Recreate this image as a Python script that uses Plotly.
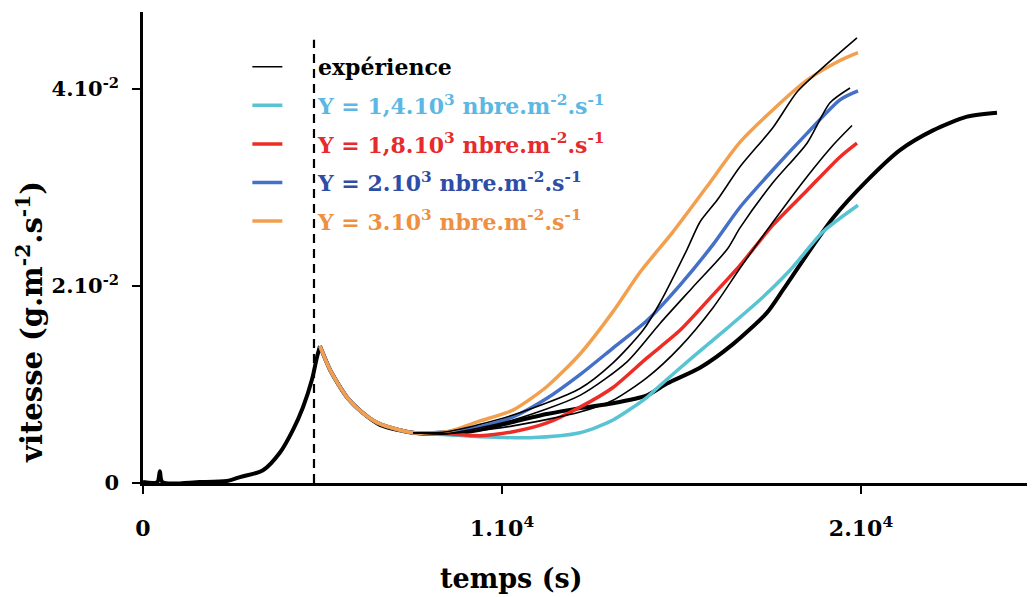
import plotly.graph_objects as go

# ---------------- data (time in s, speed in units of 1e-2 g.m-2.s-1) ----------------
# thick experimental curve (long run)
t_exp_main = [0, 400, 470, 540, 1588, 2340, 2702, 3343, 3816, 4178, 4457, 4707, 4847, 4930,
              5209, 5682, 6128, 6602, 7521, 8468, 9387, 10306, 11253, 12173, 13092, 14039,
              14596, 15515, 16434, 17382, 17827, 18496, 19220, 20167, 21086, 22005, 22953, 23788]
v_exp_main = [0.01, 0.01, 0.12, 0.01, 0.01, 0.02, 0.06, 0.13, 0.31, 0.54, 0.77, 1.05, 1.28, 1.39,
              1.15, 0.87, 0.71, 0.59, 0.51, 0.50, 0.54, 0.62, 0.70, 0.76, 0.81, 0.89,
              1.01, 1.17, 1.41, 1.73, 1.96, 2.32, 2.69, 3.07, 3.38, 3.58, 3.72, 3.76]
i_peak = 13  # index of the peak in the thick curve

# thin experimental curves
t_exp_a = [7521, 8468, 10306, 12173, 13092, 13928, 14401, 15153, 15515, 15989, 16629, 17549, 18217, 18941, 19888]
v_exp_a = [0.51, 0.52, 0.69, 0.96, 1.22, 1.55, 1.83, 2.37, 2.65, 2.87, 3.21, 3.61, 3.97, 4.22, 4.52]
t_exp_b = [7521, 8468, 10306, 12173, 13482, 14401, 15320, 16267, 16629, 17549, 18496, 19136, 19694]
v_exp_b = [0.51, 0.50, 0.64, 0.89, 1.23, 1.62, 1.99, 2.37, 2.59, 3.05, 3.45, 3.86, 4.01]
t_exp_c = [7521, 8468, 10306, 12173, 13092, 14039, 14958, 15877, 16629, 17549, 18496, 19220, 19750]
v_exp_c = [0.51, 0.50, 0.58, 0.72, 0.84, 1.07, 1.38, 1.78, 2.18, 2.65, 3.11, 3.43, 3.63]

# simulations (common decay after the peak, then divergence)
t_decay = [4930, 5209, 5682, 6128, 6602, 7521]
v_decay = [1.39, 1.15, 0.87, 0.71, 0.60, 0.51]

t_g14 = [8468, 9387, 10780, 12173, 13092, 14039, 14401, 15320, 16267, 17186, 18022, 18941, 19916]
v_g14 = [0.49, 0.47, 0.46, 0.51, 0.64, 0.87, 0.99, 1.28, 1.57, 1.86, 2.16, 2.55, 2.82]
t_g18 = [8468, 9387, 10306, 11253, 12173, 13092, 14039, 14958, 15877, 16629, 17549, 18496, 19415, 19888]
v_g18 = [0.50, 0.48, 0.52, 0.61, 0.77, 0.97, 1.27, 1.55, 1.91, 2.21, 2.62, 2.97, 3.31, 3.45]
t_g20 = [8468, 9387, 10306, 11253, 12173, 13092, 14039, 14958, 15877, 16629, 17549, 18496, 19415, 19916]
v_g20 = [0.52, 0.57, 0.67, 0.86, 1.10, 1.37, 1.65, 2.01, 2.42, 2.80, 3.18, 3.55, 3.89, 3.98]
t_g30 = [8468, 9387, 10306, 11253, 12173, 13092, 13844, 14763, 15710, 16629, 17549, 18496, 19415, 19916]
v_g30 = [0.52, 0.63, 0.74, 0.98, 1.31, 1.74, 2.14, 2.55, 3.01, 3.46, 3.79, 4.09, 4.29, 4.37]

t_dashed = 4763           # start of the simulated regime
v_dashed_top = 4.50

x_tickvals = [0, 10000, 20000]
x_ticktext = ["0", "1.10<sup>4</sup>", "2.10<sup>4</sup>"]
y_tickvals = [0, 2, 4]
y_ticktext = ["0", "2.10<sup>-2</sup>", "4.10<sup>-2</sup>"]

names = {
    "exp": "expérience",
    "g14": "Υ = 1,4.10<sup>3</sup> nbre.m<sup>-2</sup>.s<sup>-1</sup>",
    "g18": "Υ = 1,8.10<sup>3</sup> nbre.m<sup>-2</sup>.s<sup>-1</sup>",
    "g20": "Υ = 2.10<sup>3</sup> nbre.m<sup>-2</sup>.s<sup>-1</sup>",
    "g30": "Υ = 3.10<sup>3</sup> nbre.m<sup>-2</sup>.s<sup>-1</sup>",
}
line_colors = {"g14": "#58C4D3", "g18": "#EE2C26", "g20": "#4570C8", "g30": "#F2A04E"}
text_colors = {"exp": "#000000", "g14": "#5CB7E2", "g18": "#E62A2E", "g20": "#2E4DA6", "g30": "#EE9040"}

FONT = "DejaVu Serif"
PAD = "\u00a0" * 4
SMOOTH = 0.7

fig = go.Figure()

# thick experimental curve (rise and decay drawn as two smooth pieces meeting at the peak)
fig.add_trace(go.Scatter(x=t_exp_main[:i_peak + 1], y=v_exp_main[:i_peak + 1], mode="lines",
                         line=dict(color="black", width=4, shape="spline", smoothing=0.8),
                         showlegend=False, hoverinfo="skip"))
fig.add_trace(go.Scatter(x=t_exp_main[i_peak:], y=v_exp_main[i_peak:], mode="lines",
                         line=dict(color="black", width=4, shape="spline", smoothing=SMOOTH),
                         showlegend=False, hoverinfo="skip"))

# simulations
rank = {"g14": 2, "g18": 3, "g20": 4, "g30": 5}
for key, tt, vv in [("g14", t_g14, v_g14), ("g18", t_g18, v_g18),
                    ("g20", t_g20, v_g20), ("g30", t_g30, v_g30)]:
    fig.add_trace(go.Scatter(
        x=t_decay + tt, y=v_decay + vv, mode="lines",
        line=dict(color=line_colors[key], width=3.5, shape="spline", smoothing=SMOOTH),
        name=PAD + f"<span style='color:{text_colors[key]}'>{names[key]}</span>",
        legendrank=rank[key], legendgroup=key))

# thin experimental curves
for i, (tt, vv) in enumerate([(t_exp_a, v_exp_a), (t_exp_b, v_exp_b), (t_exp_c, v_exp_c)]):
    fig.add_trace(go.Scatter(
        x=tt, y=vv, mode="lines",
        line=dict(color="black", width=1.6, shape="spline", smoothing=SMOOTH),
        name=PAD + names["exp"], showlegend=(i == 0), legendrank=1, legendgroup="exp"))

# dashed vertical line
fig.add_trace(go.Scatter(x=[t_dashed, t_dashed], y=[0, v_dashed_top], mode="lines",
                         line=dict(color="black", width=2.2, dash="9px,6px"),
                         showlegend=False, hoverinfo="skip"))

# page body has an 8px margin: the figure is laid out 8px up/left of the target picture
fig.update_layout(
    width=1027, height=589,
    margin=dict(l=135, r=0, t=4, b=114),
    paper_bgcolor="white", plot_bgcolor="white",
    font=dict(family=FONT, size=21, color="black", weight="bold"),
    showlegend=True,
    legend=dict(x=0.117, y=0.928, xanchor="left", yanchor="top",
                bgcolor="rgba(0,0,0,0)", font=dict(family=FONT, size=22, weight="bold"),
                traceorder="grouped", tracegroupgap=7, itemwidth=30),
    xaxis=dict(range=[0, 24847], showgrid=False, zeroline=False,
               showline=True, linecolor="black", linewidth=2.5,
               ticks="outside", ticklen=8, tickwidth=2, tickcolor="black",
               tickvals=x_tickvals, ticktext=x_ticktext, ticklabelstandoff=16,
               tickfont=dict(family=FONT, size=22, weight="bold")),
    yaxis=dict(range=[0, 4.782], showgrid=False, zeroline=False,
               showline=True, linecolor="black", linewidth=2.5,
               ticks="outside", ticklen=8, tickwidth=2, tickcolor="black",
               tickvals=y_tickvals, ticktext=y_ticktext, ticklabelstandoff=9,
               tickfont=dict(family=FONT, size=21, weight="bold")),
    annotations=[
        dict(text="temps (s)", xref="paper", yref="paper", x=0.4126, y=-0.2017,
             xanchor="center", yanchor="middle", showarrow=False,
             font=dict(family=FONT, size=27, weight="bold")),
        dict(text="vitesse (g.m<sup>-2</sup>.s<sup>-1</sup>)", xref="paper", yref="paper",
             x=-0.1267, y=0.342, xanchor="center", yanchor="middle", textangle=-90,
             showarrow=False, font=dict(family=FONT, size=29, weight="bold")),
    ],
)

fig.write_html("out.html")
